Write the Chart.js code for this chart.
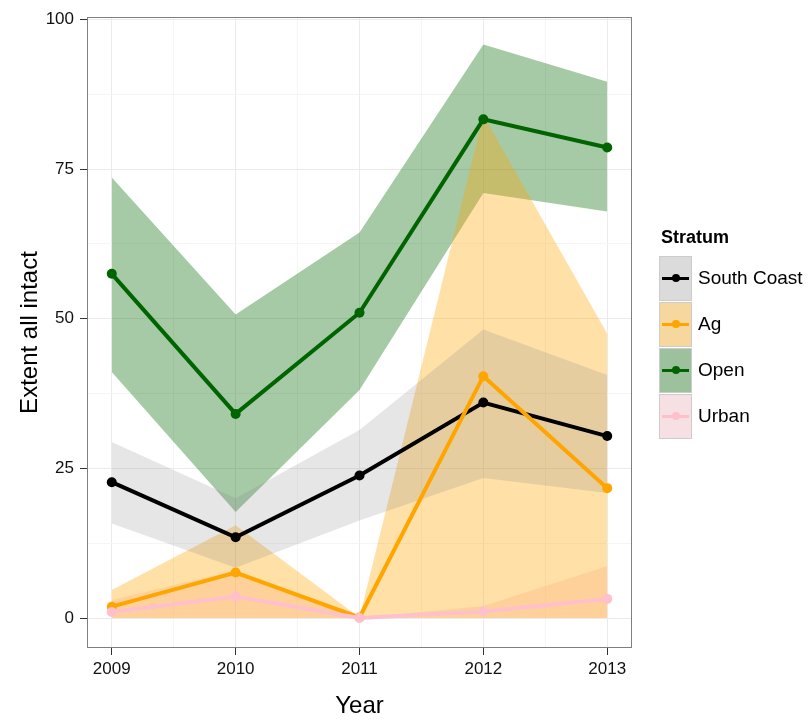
<!DOCTYPE html>
<html>
<head>
<meta charset="utf-8">
<script src="https://cdn.jsdelivr.net/npm/chart.js@4.4.1/dist/chart.umd.min.js"></script>
<style>
  body { margin: 0; background: #fff; font-family: "Liberation Sans", Arial, sans-serif; }
  #wrap { position: relative; width: 810px; height: 721px; }
  #legend { position: absolute; left: 659px; top: 224px; color: #000; }
  #legend .title { font-weight: bold; font-size: 18px; margin-left: 2px; height: 31px; line-height: 26px; }
  #legend .row { display: flex; align-items: center; height: 46px; }
  #legend .key { position: relative; width: 33px; height: 45px; background: #f2f2f2; border: 1px solid #ccc; box-sizing: border-box; margin-top: 1px; }
  #legend .fillbox { position: absolute; inset: 0; }
  #legend .ln { position: absolute; left: 2px; right: 2px; top: 20px; height: 3px; }
  #legend .dot { position: absolute; left: 12px; top: 17px; width: 8px; height: 8px; border-radius: 50%; }
  #legend .lab { font-size: 19px; margin-left: 6px; }
</style>
</head>
<body>
<div id="wrap">
  <canvas id="chart" width="810" height="721"></canvas>
  <div id="legend"></div>
</div>
<script>
// data
const years = [2009, 2010, 2011, 2012, 2013];
const strata = ["South Coast", "Ag", "Open", "Urban"];

const southCoast = [22.7, 13.5, 23.8, 36.0, 30.4];
const southCoastLow = [15.8, 8.4, 16.3, 23.4, 20.9];
const southCoastHigh = [29.4, 20.0, 31.4, 48.2, 40.6];

const ag = [1.9, 7.6, 0.1, 40.4, 21.7];
const agLow = [0, 0, 0, 0, 0];
const agHigh = [4.7, 15.5, 0.1, 84.0, 47.5];

const open = [57.5, 34.1, 51.0, 83.3, 78.6];
const openLow = [41.1, 17.7, 38.1, 71.0, 67.9];
const openHigh = [73.6, 50.7, 64.4, 95.8, 89.6];

const urban = [1.0, 3.6, 0.0, 1.1, 3.2];
const urbanLow = [0, 0, 0, 0, 0];
const urbanHigh = [3.0, 8.0, 0.0, 2.0, 8.7];

const yTickLabels = ["0", "25", "50", "75", "100"];

const lineColors = ["#000000", "#FFA500", "#006400", "#FFC0CB"];
const ribbonColors = [
  "rgba(128,128,128,0.2)",
  "rgba(255,165,0,0.35)",
  "rgba(0,100,0,0.35)",
  "rgba(255,192,203,0.35)"
];

const series = [southCoast, ag, open, urban];
const lows = [southCoastLow, agLow, openLow, urbanLow];
const highs = [southCoastHigh, agHigh, openHigh, urbanHigh];

const pts = arr => years.map((yr, i) => ({ x: yr, y: arr[i] }));

const datasets = [];
// ribbons
strata.forEach((name, s) => {
  datasets.push({
    label: name + " high",
    data: pts(highs[s]),
    borderWidth: 0,
    pointRadius: 0,
    backgroundColor: ribbonColors[s],
    fill: "+1",
    order: 10
  });
  datasets.push({
    label: name + " low",
    data: pts(lows[s]),
    borderWidth: 0,
    pointRadius: 0,
    fill: false,
    order: 10
  });
});
// lines, later strata on top
strata.forEach((name, s) => {
  datasets.push({
    label: name,
    data: pts(series[s]),
    borderColor: lineColors[s],
    backgroundColor: lineColors[s],
    borderWidth: 4,
    pointRadius: 5,
    pointBorderWidth: 0,
    fill: false,
    tension: 0,
    order: 4 - s
  });
});

// panel border like theme_bw
const panelBorder = {
  id: "panelBorder",
  afterDraw(chart) {
    const { ctx, chartArea: a } = chart;
    ctx.save();
    ctx.strokeStyle = "#7f7f7f";
    ctx.lineWidth = 1;
    ctx.strokeRect(Math.round(a.left) + 0.5, Math.round(a.top) + 0.5,
      Math.round(a.right - a.left) - 1, Math.round(a.bottom - a.top) - 1);
    ctx.restore();
  }
};

const isMajor = v => Math.abs(v - Math.round(v)) < 1e-6;

new Chart(document.getElementById("chart").getContext("2d"), {
  type: "line",
  data: { datasets },
  plugins: [panelBorder],
  options: {
    responsive: false,
    animation: false,
    layout: { padding: { top: 17, right: 178, left: 0, bottom: 0 } },
    plugins: {
      legend: { display: false },
      tooltip: { enabled: false },
      filler: { drawTime: "beforeDatasetsDraw" }
    },
    scales: {
      x: {
        type: "linear",
        min: 2008.8,
        max: 2013.2,
        afterBuildTicks: scale => {
          const t = [];
          for (let v = 2009; v <= 2013; v += 0.5) t.push({ value: v });
          scale.ticks = t;
        },
        afterFit: scale => { scale.height = 73; },
        border: { display: false },
        grid: {
          color: c => isMajor(c.tick.value) ? "#ebebeb" : "#f5f5f5",
          tickColor: c => isMajor(c.tick.value) ? "#333" : "rgba(0,0,0,0)",
          tickLength: 7,
          lineWidth: 1
        },
        ticks: {
          autoSkip: false,
          maxRotation: 0,
          padding: 4,
          color: "#111",
          font: { family: "Liberation Sans", size: 17 },
          callback: v => isMajor(v) ? String(Math.round(v)) : ""
        },
        title: {
          display: true,
          text: "Year",
          color: "#000",
          font: { family: "Liberation Sans", size: 24 },
          padding: { top: 0, bottom: 0 }
        }
      },
      y: {
        min: -5,
        max: 100.4,
        afterBuildTicks: scale => {
          const t = [];
          for (let v = 0; v <= 100; v += 12.5) t.push({ value: v });
          scale.ticks = t;
        },
        afterFit: scale => { scale.width = 87; },
        border: { display: false },
        grid: {
          color: c => (c.tick.value % 25 === 0) ? "#ebebeb" : "#f5f5f5",
          tickColor: c => (c.tick.value % 25 === 0) ? "#333" : "rgba(0,0,0,0)",
          tickLength: 7,
          lineWidth: 1
        },
        ticks: {
          autoSkip: false,
          padding: 6,
          color: "#111",
          font: { family: "Liberation Sans", size: 17 },
          callback: v => (v % 25 === 0) ? yTickLabels[v / 25] : ""
        },
        title: {
          display: true,
          text: "Extent all intact",
          color: "#000",
          font: { family: "Liberation Sans", size: 24 },
          padding: { top: 16, bottom: 0 }
        }
      }
    }
  }
});

// legend (ggplot-style keys)
const legend = document.getElementById("legend");
let html = '<div class="title">Stratum</div>';
strata.forEach((name, s) => {
  html += '<div class="row"><div class="key">' +
    '<div class="fillbox" style="background:' + ribbonColors[s] + '"></div>' +
    '<div class="ln" style="background:' + lineColors[s] + '"></div>' +
    '<div class="dot" style="background:' + lineColors[s] + '"></div>' +
    '</div><div class="lab">' + name + '</div></div>';
});
legend.innerHTML = html;
</script>
</body>
</html>
